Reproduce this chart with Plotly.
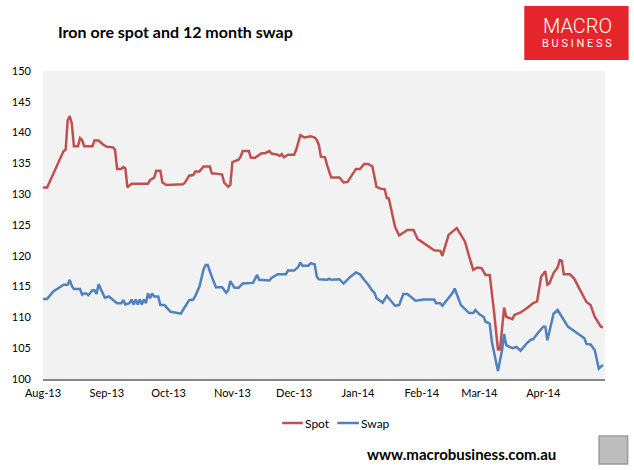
import plotly.graph_objects as go

# Iron ore spot price and 12 month swap, US$/t
spot_dates = [
    "2013-08-01", "2013-08-03", "2013-08-11", "2013-08-12", "2013-08-13", "2013-08-14",
    "2013-08-15", "2013-08-16", "2013-08-18", "2013-08-19", "2013-08-20", "2013-08-21",
    "2013-08-25", "2013-08-26", "2013-08-28", "2013-08-30", "2013-09-01", "2013-09-04",
    "2013-09-05", "2013-09-06", "2013-09-08", "2013-09-09", "2013-09-10", "2013-09-11",
    "2013-09-13", "2013-09-21", "2013-09-22", "2013-09-24", "2013-09-25", "2013-09-27",
    "2013-09-28", "2013-09-30", "2013-10-08", "2013-10-09", "2013-10-11", "2013-10-13",
    "2013-10-14", "2013-10-16", "2013-10-18", "2013-10-21", "2013-10-22", "2013-10-23",
    "2013-10-25", "2013-10-27", "2013-10-28", "2013-10-30", "2013-10-31", "2013-11-01",
    "2013-11-04", "2013-11-05", "2013-11-06", "2013-11-09", "2013-11-10", "2013-11-12",
    "2013-11-15", "2013-11-17", "2013-11-19", "2013-11-20", "2013-11-23", "2013-11-24",
    "2013-11-25", "2013-11-26", "2013-11-28", "2013-12-01", "2013-12-02", "2013-12-04",
    "2013-12-06", "2013-12-09", "2013-12-11", "2013-12-12", "2013-12-13", "2013-12-14",
    "2013-12-16", "2013-12-17", "2013-12-19", "2013-12-23", "2013-12-25", "2013-12-27",
    "2013-12-29", "2013-12-31", "2014-01-02", "2014-01-04", "2014-01-06", "2014-01-08",
    "2014-01-10", "2014-01-12", "2014-01-14", "2014-01-15", "2014-01-16", "2014-01-19",
    "2014-01-21", "2014-01-23", "2014-01-25", "2014-01-28", "2014-01-30", "2014-01-31",
    "2014-02-03", "2014-02-07", "2014-02-10", "2014-02-11", "2014-02-14", "2014-02-17",
    "2014-02-18", "2014-02-20", "2014-02-22", "2014-02-24", "2014-02-26", "2014-02-28",
    "2014-03-02", "2014-03-04", "2014-03-06", "2014-03-08", "2014-03-10", "2014-03-11",
    "2014-03-13", "2014-03-14", "2014-03-17", "2014-03-18", "2014-03-21", "2014-03-24",
    "2014-03-27", "2014-03-29", "2014-03-31", "2014-04-02", "2014-04-03", "2014-04-04",
    "2014-04-06", "2014-04-08", "2014-04-09", "2014-04-10", "2014-04-11", "2014-04-14",
    "2014-04-16", "2014-04-19", "2014-04-22", "2014-04-24", "2014-04-26", "2014-04-29",
    "2014-04-30",
]
spot_values = [
    131.1, 131.1, 137.0, 137.2, 142.0, 142.7,
    141.5, 137.8, 137.8, 139.1, 138.8, 137.8,
    137.8, 138.7, 138.7, 138.1, 137.7, 137.6,
    137.2, 134.1, 134.1, 134.4, 134.2, 131.1,
    131.7, 131.7, 132.3, 132.7, 133.8, 133.8,
    131.9, 131.5, 131.6, 131.9, 133.0, 133.1,
    133.7, 133.7, 134.5, 134.5, 133.4, 133.4,
    133.3, 133.2, 131.9, 131.2, 131.5, 135.2,
    135.6, 136.1, 137.0, 137.0, 135.9, 135.9,
    136.6, 136.7, 137.0, 136.6, 136.4, 136.2,
    136.5, 136.0, 136.4, 136.4, 137.2, 139.6,
    139.2, 139.4, 139.2, 138.8, 138.0, 136.1,
    136.0, 134.7, 132.7, 132.7, 131.9, 132.0,
    133.1, 134.1, 134.1, 134.9, 134.9, 134.5,
    131.2, 130.9, 130.8, 129.4, 129.3, 124.7,
    123.3, 123.8, 124.2, 124.2, 122.7, 122.5,
    121.8, 120.9, 120.8, 120.0, 123.4, 124.2,
    124.5, 123.4, 122.3, 119.9, 117.7, 118.1,
    118.0, 116.9, 116.9, 111.2, 104.8, 104.8,
    111.6, 110.1, 109.7, 110.4, 110.8, 111.5,
    112.3, 112.6, 116.6, 117.5, 115.3, 115.5,
    117.2, 118.1, 119.3, 119.2, 117.0, 117.0,
    116.3, 114.4, 112.5, 112.0, 110.1, 108.5,
    108.4,
]

swap_dates = [
    "2013-08-01", "2013-08-03", "2013-08-06", "2013-08-11", "2013-08-13", "2013-08-14",
    "2013-08-15", "2013-08-16", "2013-08-19", "2013-08-20", "2013-08-21", "2013-08-22",
    "2013-08-23", "2013-08-25", "2013-08-26", "2013-08-27", "2013-08-28", "2013-08-29",
    "2013-08-31", "2013-09-02", "2013-09-04", "2013-09-06", "2013-09-08", "2013-09-09",
    "2013-09-10", "2013-09-12", "2013-09-13", "2013-09-14", "2013-09-15", "2013-09-16",
    "2013-09-17", "2013-09-18", "2013-09-19", "2013-09-20", "2013-09-21", "2013-09-22",
    "2013-09-23", "2013-09-24", "2013-09-26", "2013-09-27", "2013-09-29", "2013-10-02",
    "2013-10-04", "2013-10-07", "2013-10-08", "2013-10-11", "2013-10-13", "2013-10-14",
    "2013-10-16", "2013-10-18", "2013-10-19", "2013-10-20", "2013-10-22", "2013-10-24",
    "2013-10-27", "2013-10-29", "2013-10-30", "2013-10-31", "2013-11-02", "2013-11-04",
    "2013-11-06", "2013-11-11", "2013-11-13", "2013-11-14", "2013-11-19", "2013-11-20",
    "2013-11-23", "2013-11-27", "2013-11-28", "2013-12-01", "2013-12-03", "2013-12-04",
    "2013-12-05", "2013-12-08", "2013-12-09", "2013-12-11", "2013-12-12", "2013-12-13",
    "2013-12-17", "2013-12-18", "2013-12-19", "2013-12-23", "2013-12-25", "2013-12-28",
    "2013-12-31", "2014-01-02", "2014-01-04", "2014-01-06", "2014-01-08", "2014-01-09",
    "2014-01-10", "2014-01-13", "2014-01-15", "2014-01-17", "2014-01-19", "2014-01-21",
    "2014-01-23", "2014-01-25", "2014-01-29", "2014-02-02", "2014-02-07", "2014-02-08",
    "2014-02-10", "2014-02-11", "2014-02-13", "2014-02-16", "2014-02-17", "2014-02-18",
    "2014-02-20", "2014-02-24", "2014-02-26", "2014-02-27", "2014-03-01", "2014-03-03",
    "2014-03-04", "2014-03-06", "2014-03-07", "2014-03-10", "2014-03-12", "2014-03-13",
    "2014-03-14", "2014-03-17", "2014-03-19", "2014-03-21", "2014-03-24", "2014-03-26",
    "2014-03-27", "2014-03-29", "2014-04-01", "2014-04-02", "2014-04-03", "2014-04-04",
    "2014-04-06", "2014-04-08", "2014-04-11", "2014-04-13", "2014-04-16", "2014-04-19",
    "2014-04-21", "2014-04-22", "2014-04-24", "2014-04-26", "2014-04-28", "2014-04-30",
]
swap_values = [
    113.0, 113.0, 114.2, 115.3, 115.3, 116.1,
    115.1, 114.6, 114.6, 113.7, 113.9, 113.9,
    113.6, 114.4, 114.4, 113.8, 115.4, 114.7,
    113.2, 113.4, 112.8, 112.3, 112.3, 112.8,
    112.1, 112.3, 112.9, 112.1, 112.9, 112.1,
    112.9, 112.1, 112.9, 112.3, 113.9, 113.1,
    113.9, 113.4, 113.4, 112.0, 112.0, 110.9,
    110.8, 110.6, 111.2, 112.8, 112.9, 113.5,
    115.0, 117.8, 118.5, 118.5, 116.6, 114.9,
    114.9, 114.0, 114.4, 115.9, 114.8, 114.8,
    115.5, 115.6, 116.9, 116.1, 116.0, 116.4,
    117.0, 117.0, 117.6, 117.6, 118.2, 118.9,
    118.4, 118.4, 118.8, 118.6, 116.6, 116.2,
    116.1, 116.3, 116.1, 116.2, 115.5, 116.5,
    117.3, 117.0, 116.1, 115.3, 114.3, 114.0,
    113.1, 112.4, 113.5, 112.7, 111.9, 112.0,
    113.8, 113.8, 112.7, 112.9, 112.9, 112.3,
    112.3, 111.9, 112.8, 114.0, 114.7, 113.8,
    112.0, 110.7, 110.7, 111.2, 110.5, 110.1,
    109.3, 109.0, 106.1, 101.3, 104.7, 107.3,
    105.5, 105.0, 105.2, 104.6, 105.8, 106.4,
    106.4, 107.3, 108.5, 108.5, 106.3, 107.7,
    110.6, 111.2, 109.5, 108.5, 107.8, 107.1,
    106.6, 105.7, 105.6, 104.7, 101.7, 102.3,
]

month_ticks = ["2013-08-01", "2013-09-01", "2013-10-01", "2013-11-01", "2013-12-01",
               "2014-01-01", "2014-02-01", "2014-03-01", "2014-04-01"]
month_labels = ["Aug-13", "Sep-13", "Oct-13", "Nov-13", "Dec-13",
                "Jan-14", "Feb-14", "Mar-14", "Apr-14"]

series_names = ["Spot", "Swap"]
series_colors = ["#C0504D", "#4F81BD"]

W, H = 634, 470
L, R, T, B = 34, 605, 71, 379  # plot area in pixels


def px(x):
    return (x - L) / (R - L)


def py(y):
    return (B - y) / (B - T)


def label(fig, x, y, text, size, anchor="center", family="Lato", color="#000000", weight="normal"):
    fig.add_annotation(x=px(x), y=py(y), xref="paper", yref="paper", xanchor=anchor, yanchor="middle",
                       text=text, showarrow=False,
                       font=dict(family=family, size=size, color=color, weight=weight))


fig = go.Figure()
fig.add_trace(go.Scatter(x=spot_dates, y=spot_values, name=series_names[0], mode="lines",
                         line=dict(color=series_colors[0], width=2.5)))
fig.add_trace(go.Scatter(x=swap_dates, y=swap_values, name=series_names[1], mode="lines",
                         line=dict(color=series_colors[1], width=2.5)))

tick_font = dict(family="Lato", size=11, color="#000000")

fig.update_layout(
    width=W, height=H,
    margin=dict(l=L, r=W - R, t=T, b=H - B),
    paper_bgcolor="white", plot_bgcolor="#F2F2F2",
    showlegend=False,
    xaxis=dict(type="date", range=["2013-08-01", "2014-05-01"],
               tickvals=month_ticks, ticktext=month_labels,
               showgrid=False, zeroline=False, ticks="",
               showline=True, linecolor="#868686", linewidth=1.5,
               tickfont=tick_font, ticklabelstandoff=3),
    yaxis=dict(range=[100, 150], dtick=5, showgrid=False, zeroline=False,
               ticks="", showline=False, tickfont=tick_font, ticklabelstandoff=11),
)

# title
label(fig, 47, 32, "<b>Iron ore spot and 12 month swap</b>", 16, anchor="left")

# logo box
fig.add_shape(type="rect", xref="paper", yref="paper", x0=px(523), x1=px(629), y0=py(60), y1=py(6),
              fillcolor="#E5252C", line=dict(width=0), layer="above")
label(fig, 577, 26, "MACRO", 20, family="Roboto", color="white", weight=300)
label(fig, 577, 43, "B U S I N E S S", 11, family="Roboto", color="white")

# legend
legend_items = [(277, 298, 0), (333, 355, 1)]
for x0, x1, i in legend_items:
    fig.add_shape(type="line", xref="paper", yref="paper", x0=px(x0), x1=px(x1), y0=py(423), y1=py(423),
                  line=dict(color=series_colors[i], width=2.5))
    label(fig, x1, 423, series_names[i], 12, anchor="left")

# footer
label(fig, 459, 454, "<b>www.macrobusiness.com.au</b>", 15)
fig.add_shape(type="rect", xref="paper", yref="paper", x0=px(599), x1=px(628), y0=py(464), y1=py(436),
              fillcolor="#BDBDBD", line=dict(color="#9A9A9A", width=1.5))

fig.write_html("out.html", config={"displayModeBar": False},
               post_script="document.body.style.margin='0';document.body.style.overflow='hidden';")
